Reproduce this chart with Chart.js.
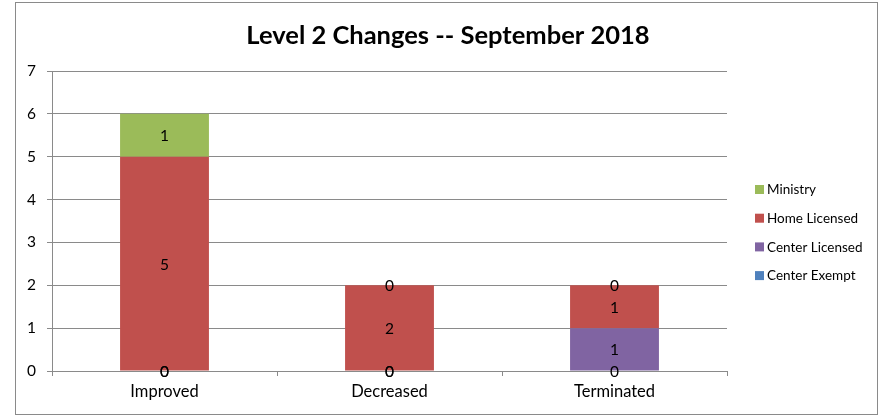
<!DOCTYPE html>
<html>
<head>
<meta charset="utf-8">
<script src="https://cdn.jsdelivr.net/npm/chart.js@4/dist/chart.umd.min.js"></script>
<style>
html,body{margin:0;padding:0;background:#fff;}
#wrap{width:880px;height:417px;position:relative;}
</style>
</head>
<body>
<div id="wrap"><canvas id="c" width="880" height="417"></canvas></div>
<script>
const title = "Level 2 Changes -- September 2018";
const categories = ["Improved", "Decreased", "Terminated"];
const centerExempt = [0, 0, 0];
const centerLicensed = [0, 0, 1];
const homeLicensed = [5, 2, 1];
const ministry = [1, 0, 0];
const yTicks = [0, 1, 2, 3, 4, 5, 6, 7];

const FONT = "Lato, 'Liberation Sans', sans-serif";

const framePlugin = {
  id: 'frame',
  beforeDraw(chart) {
    const ctx = chart.ctx;
    ctx.save();
    ctx.fillStyle = '#fff';
    ctx.fillRect(0, 0, chart.width, chart.height);
    ctx.strokeStyle = '#8a8a8a';
    ctx.lineWidth = 1;
    ctx.strokeRect(15.5, 2.5, 862, 412);
    ctx.restore();
  }
};

const titlePlugin = {
  id: 'centerTitle',
  afterDraw(chart) {
    const ctx = chart.ctx;
    ctx.save();
    ctx.font = "bold 25.5px " + FONT;
    ctx.fillStyle = '#000';
    ctx.textAlign = 'center';
    ctx.textBaseline = 'middle';
    ctx.fillText(title, 448, 36);
    ctx.restore();
  }
};

const labelPlugin = {
  id: 'barLabels',
  afterDatasetsDraw(chart) {
    const ctx = chart.ctx;
    ctx.save();
    ctx.font = "15.5px " + FONT;
    ctx.fillStyle = '#000';
    ctx.textAlign = 'center';
    ctx.textBaseline = 'middle';
    chart.data.datasets.forEach((ds, i) => {
      const meta = chart.getDatasetMeta(i);
      meta.data.forEach((el, j) => {
        const y = (el.y + el.base) / 2;
        ctx.fillText(String(ds.data[j]), el.x, y + 1);
      });
    });
    ctx.restore();
  }
};

const legendPlugin = {
  id: 'customLegend',
  afterDraw(chart) {
    const ctx = chart.ctx;
    const area = chart.chartArea;
    const x0 = area.right + 28;
    const y0 = 190;
    const step = 28.7;
    ctx.save();
    ctx.font = "13.5px " + FONT;
    ctx.textBaseline = 'middle';
    ctx.textAlign = 'left';
    const ds = chart.data.datasets.slice().reverse();
    ds.forEach((d, k) => {
      const y = y0 + k * step;
      ctx.fillStyle = d.backgroundColor;
      ctx.fillRect(x0, y - 5, 9, 9);
      ctx.fillStyle = '#000';
      ctx.fillText(d.label, x0 + 12, y);
    });
    ctx.restore();
  }
};

new Chart(document.getElementById('c'), {
  type: 'bar',
  data: {
    labels: categories,
    datasets: [
      { label: 'Center Exempt', data: centerExempt, backgroundColor: '#4F81BD' },
      { label: 'Center Licensed', data: centerLicensed, backgroundColor: '#8064A2' },
      { label: 'Home Licensed', data: homeLicensed, backgroundColor: '#C0504D' },
      { label: 'Ministry', data: ministry, backgroundColor: '#9BBB59' }
    ]
  },
  options: {
    responsive: false,
    animation: false,
    devicePixelRatio: 1,
    layout: { padding: { left: 0, right: 153, top: 71, bottom: 0 } },
    datasets: { bar: { barPercentage: 0.395, categoryPercentage: 1, borderWidth: 0 } },
    plugins: {
      legend: { display: false },
      tooltip: { enabled: false },
      title: { display: false }
    },
    scales: {
      x: {
        stacked: true,
        grid: { display: true, drawOnChartArea: false, drawTicks: true, tickLength: 5, color: '#8a8a8a', offset: true },
        border: { display: true, color: '#8a8a8a', width: 1 },
        ticks: { color: '#000', font: { family: FONT, size: 16.5 }, padding: 6 },
        afterFit(scale) { scale.height = 46; }
      },
      y: {
        stacked: true,
        min: 0,
        max: 7,
        afterBuildTicks(scale) { scale.ticks = yTicks.map(v => ({ value: v })); },
        grid: { color: '#8a8a8a', tickLength: 5, drawTicks: true },
        border: { display: true, color: '#8a8a8a', width: 1 },
        ticks: { color: '#000', font: { family: FONT, size: 15.5 }, padding: 11 },
        afterFit(scale) { scale.width = 52; }
      }
    }
  },
  plugins: [framePlugin, titlePlugin, labelPlugin, legendPlugin]
});
</script>
</body>
</html>
